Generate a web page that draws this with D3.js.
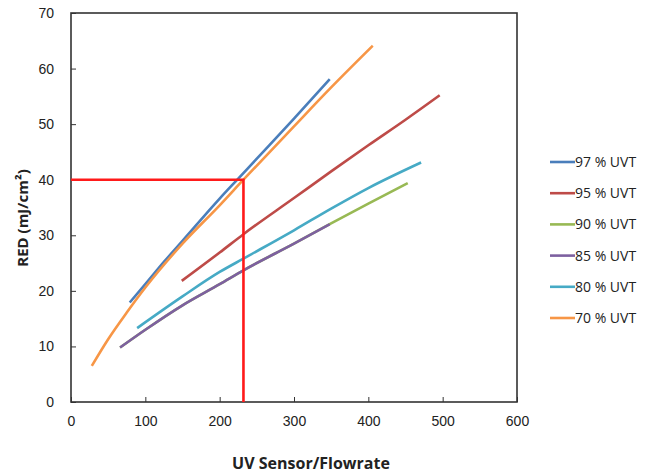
<!DOCTYPE html>
<html>
<head>
<meta charset="utf-8">
<script src="https://cdn.jsdelivr.net/npm/d3@7/dist/d3.min.js"></script>
<style>
  html, body { margin: 0; padding: 0; background: #fff; }
  svg { display: block; font-family: "Open Sans", "Liberation Sans", sans-serif; }
</style>
</head>
<body>
<svg id="chart" width="650" height="473"></svg>
<script>
// RED dose curves versus UV sensor reading / flowrate, one series per UVT level
const seriesNames = ["97 % UVT", "95 % UVT", "90 % UVT", "85 % UVT", "80 % UVT", "70 % UVT"];
const seriesColors = ["#4a7ebb", "#be4b48", "#98b954", "#7d60a0", "#46aac5", "#f79646"];

const uvt97 = [[79, 17.9], [100, 21.2], [125, 25.2], [150, 29.0], [200, 36.6], [225, 40.2], [250, 43.8], [300, 51.0], [348, 58.1]];
const uvt95 = [[149, 21.8], [200, 26.9], [232, 30.2], [300, 36.7], [350, 41.5], [400, 46.2], [450, 50.8], [496, 55.2]];
const uvt90 = [[66, 9.8], [100, 13.0], [150, 17.4], [200, 21.2], [232, 23.7], [300, 28.5], [348, 32.0], [400, 35.7], [453, 39.4]];
const uvt85 = [[66, 9.8], [100, 13.0], [150, 17.4], [200, 21.2], [232, 23.7], [300, 28.5], [348, 32.0]];
const uvt80 = [[89, 13.3], [150, 19.0], [200, 23.4], [232, 25.8], [300, 30.9], [350, 34.8], [400, 38.5], [471, 43.1]];
const uvt70 = [[28, 6.5], [50, 11.3], [75, 16.1], [100, 20.6], [150, 28.5], [200, 35.4], [232, 40.0], [300, 49.6], [350, 56.6], [406, 64.1]];
const seriesValues = [uvt97, uvt95, uvt90, uvt85, uvt80, uvt70];

// design point: flowrate ratio 232 gives 40 mJ/cm²
const designX = 232;
const designY = 40;

const xTicks = [0, 100, 200, 300, 400, 500, 600];
const yTicks = [0, 10, 20, 30, 40, 50, 60, 70];

const svg = d3.select("#chart");
const plot = { left: 71, right: 517, top: 13, bottom: 402 };

const x = d3.scaleLinear().domain([0, 600]).range([plot.left, plot.right]);
const y = d3.scaleLinear().domain([0, 70]).range([plot.bottom, plot.top]);

// axes with inward ticks
const xAxis = d3.axisBottom(x).tickValues(xTicks).tickSize(-5).tickPadding(14).tickFormat(d3.format("d"));
const yAxis = d3.axisLeft(y).tickValues(yTicks).tickSize(-5).tickPadding(17).tickFormat(d3.format("d"));

const gx = svg.append("g").attr("transform", `translate(0,${plot.bottom})`).call(xAxis);
const gy = svg.append("g").attr("transform", `translate(${plot.left},0)`).call(yAxis);
[gx, gy].forEach(g => {
  g.select(".domain").remove();
  g.selectAll(".tick line").attr("stroke", "#333").attr("stroke-width", 1);
  g.selectAll(".tick text").attr("fill", "#222").style("font-size", "14px");
});

// plot frame
svg.append("rect")
  .attr("x", plot.left).attr("y", plot.top)
  .attr("width", plot.right - plot.left).attr("height", plot.bottom - plot.top)
  .attr("fill", "none").attr("stroke", "#333").attr("stroke-width", 1.6);

// curves
const line = d3.line()
  .x(d => x(d[0]))
  .y(d => y(d[1]))
  .curve(d3.curveMonotoneX);

svg.append("g").selectAll("path")
  .data(seriesValues)
  .join("path")
  .attr("d", line)
  .attr("fill", "none")
  .attr("stroke", (d, i) => seriesColors[i])
  .attr("stroke-width", 2.6)
  .attr("stroke-linecap", "butt");

// design point guide lines
svg.append("path")
  .attr("d", d3.line()([[x(0), y(designY)], [x(designX), y(designY)], [x(designX), y(0)]]))
  .attr("fill", "none")
  .attr("stroke", "#ff1a1a")
  .attr("stroke-width", 2.6);

// axis titles
svg.append("text")
  .attr("x", 311).attr("y", 469)
  .attr("text-anchor", "middle")
  .style("font-size", "16px").style("font-weight", "bold").attr("fill", "#222")
  .text("UV Sensor/Flowrate");

svg.append("text")
  .attr("transform", "translate(28,218) rotate(-90)")
  .attr("text-anchor", "middle")
  .style("font-size", "15px").style("font-weight", "bold").attr("fill", "#222")
  .text("RED (mJ/cm²)");

// legend
const legend = svg.append("g").attr("transform", "translate(550,162)");
const rows = legend.selectAll("g")
  .data(seriesNames)
  .join("g")
  .attr("transform", (d, i) => `translate(0,${i * 31.2})`);
rows.append("line")
  .attr("x1", 0).attr("x2", 25).attr("y1", 0).attr("y2", 0)
  .attr("stroke", (d, i) => seriesColors[i]).attr("stroke-width", 2.6);
rows.append("text")
  .attr("x", 25).attr("y", 0).attr("dy", "0.35em")
  .style("font-size", "14px").attr("fill", "#222")
  .text(d => d);
</script>
</body>
</html>
